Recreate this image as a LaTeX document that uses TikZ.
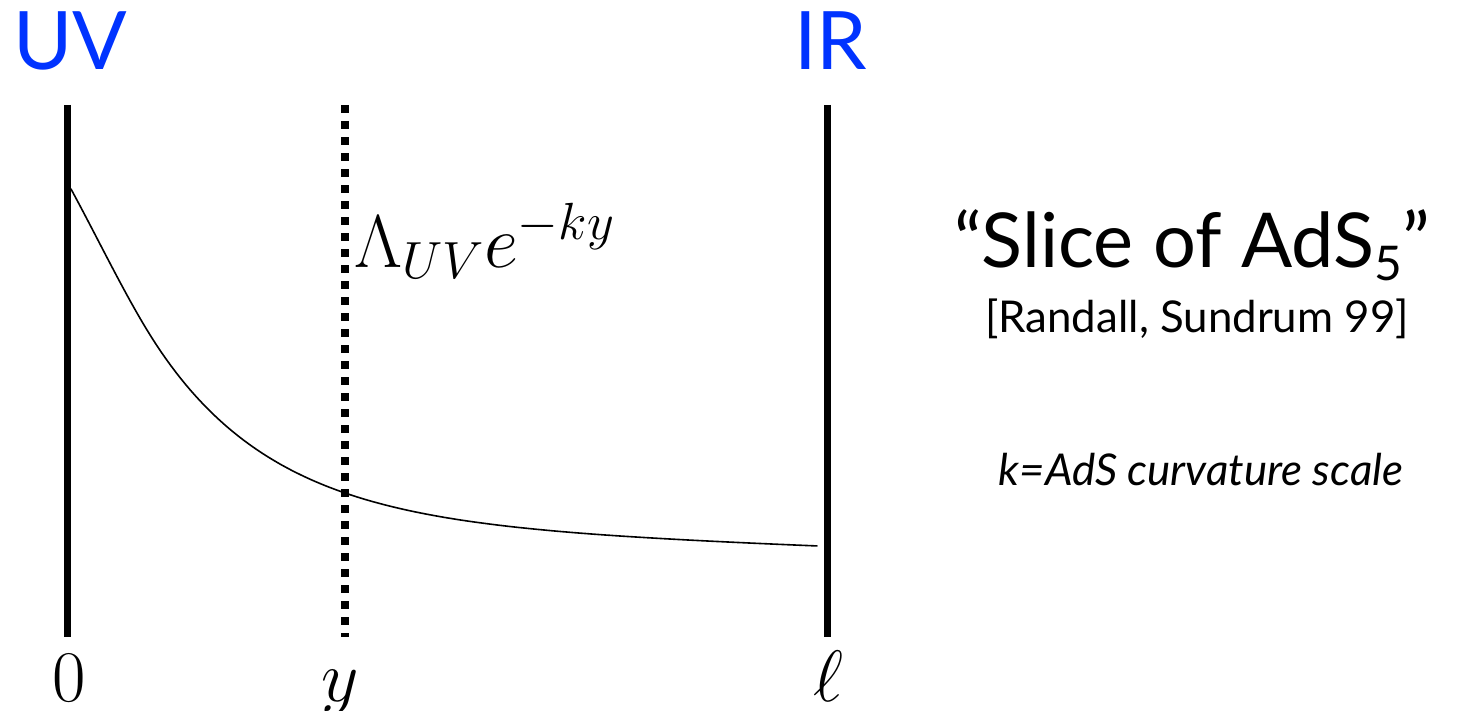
\RequirePackage{fix-cm}
\documentclass[tikz,border=0pt]{standalone}
\usepackage{fontspec}
\newfontfamily\gill{Lato}
\definecolor{uvblue}{RGB}{0,51,255}
\begin{document}
\begin{tikzpicture}[x=1bp,y=-1bp,
  brane/.style={line width=7bp},
  slicebrane/.style={line width=8bp, dash pattern=on 8bp off 8bp},
  warp/.style={line width=1.6bp, line join=round, line cap=round},
  endlbl/.style={font=\gill\fontsize{81}{90}\selectfont, text=uvblue, inner sep=0pt, anchor=base west},
  poslbl/.style={font=\fontsize{73}{80}\selectfont, inner sep=0pt, anchor=base},
  sidetxt/.style={font=\gill\fontsize{44}{48}\selectfont, inner sep=0pt, anchor=base},
]
\useasboundingbox (0,0) rectangle (1465,711);
% branes
\coordinate (uvtop) at (67,105);  \coordinate (uvbot) at (67,637);
\coordinate (ytop)  at (345,105); \coordinate (ybot)  at (345,637);
\coordinate (irtop) at (827,105); \coordinate (irbot) at (827,637);
\draw[brane] (uvtop) -- (uvbot);
\draw[slicebrane] (ytop) -- (ybot);
\draw[brane] (irtop) -- (irbot);
% warp factor curve
\coordinate (cstart) at (71,189);
\coordinate (cknee) at (147,330);
\draw[warp] (cstart) .. controls (96,235) and (122,288.9) .. (cknee)
  -- plot[domain=147:817, samples=140] (\x, {520.4 - 363.7*exp(-(\x-71)/120) + 0.0352*(\x-71)});
% labels
\node[endlbl] (uv) at (13,70) {UV};
\node[endlbl] (ir) at (794,70) {IR};
\node[poslbl] (l0) at (69,701) {$0$};
\node[poslbl] (ly) at (340,701) {$y$};
\node[poslbl] (ll) at (828,701) {$\ell$};
\node[font=\fontsize{75}{80}\selectfont, inner sep=0pt, anchor=base west] (warpf) at (354,267) {$\Lambda_{UV}e^{-ky}$};
\node[font=\gill\fontsize{76}{80}\selectfont, inner sep=0pt, anchor=base] (title) at (1192,267) {“Slice of AdS\raisebox{-13bp}{\fontsize{48}{50}\selectfont 5}”};
\node[sidetxt] (ref) at (1197,332) {[Randall, Sundrum 99]};
\node[sidetxt] (kdef) at (1201,485) {\itshape k=AdS curvature scale};
\end{tikzpicture}
\end{document}
